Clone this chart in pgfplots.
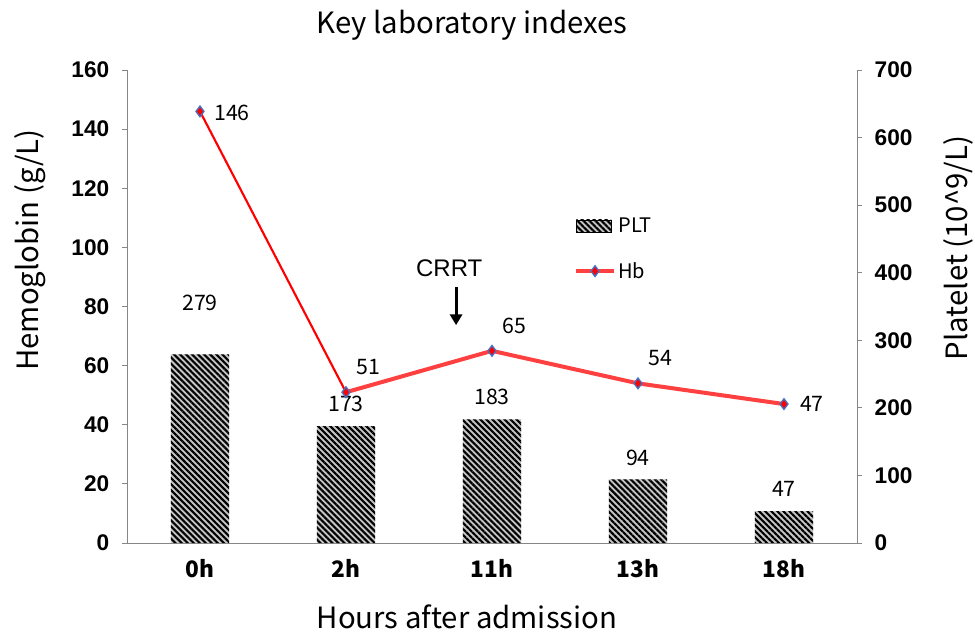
\documentclass[border=0pt]{standalone}
\usepackage{pgfplots}
\pgfplotsset{compat=1.18}
\usepackage{fontspec}
\setmainfont{Liberation Sans}
\newfontfamily\yh{Noto Sans CJK SC}
\usetikzlibrary{patterns.meta,arrows.meta}
\definecolor{axgray}{RGB}{134,134,134}
\definecolor{hbred}{RGB}{255,64,64}
\definecolor{mkblue}{RGB}{68,114,196}
\tikzset{barpat/.style={draw=none, fill=gray!45, postaction={pattern color=black, pattern={Lines[angle=-45,distance=3.2pt,line width=1.6pt]}}}}
\pgfplotsset{
 hbleg/.style={legend image code/.code={\draw[mark repeat=2,mark phase=2,##1] plot coordinates {(0pt,0pt) (14pt,0pt) (28pt,0pt)};}},
 pltleg/.style={legend image code/.code={\path[barpat] (0pt,-4.5pt) rectangle (26pt,4.5pt);}},
 common/.style={
  at={(0,0)}, anchor=south west, scale only axis,
  width=547.5pt, height=354.75pt,
  xmin=-0.5, xmax=4.5,
  axis line style={axgray}, tick style={axgray, line width=0.6pt},
  tick align=outside, major tick length=3.75pt,
  /pgf/number format/assume math mode=true,
  yticklabel style={font=\bfseries\fontsize{17}{19}\selectfont},
}}
\begin{document}
\begin{tikzpicture}
\path[use as bounding box] (-95.25pt,-67.5pt) rectangle (636pt,407.25pt);
% PLT bars, right axis
\begin{axis}[common,
  ymin=0, ymax=700, ytick={0,100,...,700},
  axis y line*=right, axis x line*=bottom,
  xtick={0,1,2,3,4}, xticklabels={0h,2h,11h,13h,18h},
  xticklabel style={font=\yh\bfseries\fontsize{17}{19}\selectfont, yshift=-5pt},
  minor xtick={-0.5,0.5,1.5,2.5,3.5,4.5},
  xtick style={draw=none}, minor tick length=3.75pt,
  minor tick style={axgray, line width=0.6pt, draw=axgray},
  yticklabel style={xshift=6pt},
]
\addplot[ybar, bar width=0.4, barpat] coordinates {(0,279) (1,173) (2,183) (3,94) (4,47)};
\addplot[draw=none, mark=none, nodes near coords, nodes near coords align={center},
  every node near coord/.append style={font=\yh\fontsize{16}{18}\selectfont, yshift=16.5pt}]
  coordinates {(1,173) (2,183) (3,94) (4,47)};
\addplot[draw=none, mark=none, nodes near coords, nodes near coords align={center},
  every node near coord/.append style={font=\yh\fontsize{16}{18}\selectfont, yshift=39pt}]
  coordinates {(0,279)};
\end{axis}
% Hb line, left axis
\begin{axis}[common,
  ymin=0, ymax=160, ytick={0,20,...,160},
  axis y line*=left, axis x line=none,
  yticklabel style={xshift=-6pt},
  legend style={draw=none, fill=none, at={(0.607,0.70)}, anchor=north west,
    font=\yh\fontsize{15}{17}\selectfont, row sep=17pt},
  legend cell align=left,
]
\addlegendimage{pltleg}
\addlegendentry{PLT}
\addlegendimage{hbred, line width=3pt, mark=diamond*, mark size=4pt, mark options={fill=red, draw=mkblue, line width=1pt}, hbleg}
\addlegendentry{Hb}
\addplot[red, line width=1.6pt, forget plot] coordinates {(0,146) (1,51)};
\addplot[hbred, line width=3pt, forget plot] coordinates {(1,51) (2,65) (3,54) (4,47)};
\addplot[only marks, mark=diamond*, mark size=4pt, mark options={fill=red, draw=mkblue, line width=1pt}, forget plot]
  coordinates {(0,146) (1,51) (2,65) (3,54) (4,47)};
\addplot[draw=none, mark=none, forget plot, nodes near coords, nodes near coords align={center},
  every node near coord/.append style={font=\yh\fontsize{16}{18}\selectfont, xshift=24pt, yshift=-1.5pt}]
  coordinates {(0,146)};
\addplot[draw=none, mark=none, forget plot, nodes near coords, nodes near coords align={center},
  every node near coord/.append style={font=\yh\fontsize{16}{18}\selectfont, xshift=21pt}]
  coordinates {(4,47)};
\addplot[draw=none, mark=none, forget plot, nodes near coords, nodes near coords align={center},
  every node near coord/.append style={font=\yh\fontsize{16}{18}\selectfont, xshift=17pt, yshift=19pt}]
  coordinates {(1,51) (2,65) (3,54)};
\draw[line width=2.2pt, -{Triangle[length=8pt,width=9pt]}] (axis cs:1.754,86.6) -- (axis cs:1.754,73.7);
\node[font=\fontsize{18}{20}\selectfont] at (axis cs:1.707,93.0) {CRRT};
\end{axis}
\node[font=\yh\fontsize{22}{24}\selectfont] at (258.75pt,388.5pt) {Key laboratory indexes};
\node[font=\yh\fontsize{22}{24}\selectfont] at (255pt,-55.5pt) {Hours after admission};
\node[font=\yh\fontsize{22}{24}\selectfont, rotate=90] at (-72.75pt,219.75pt) {Hemoglobin (g/L)};
\node[font=\yh\fontsize{22}{24}\selectfont, rotate=90] at (623.25pt,221.25pt) {Platelet (10\textasciicircum 9/L)};
\end{tikzpicture}
\end{document}
